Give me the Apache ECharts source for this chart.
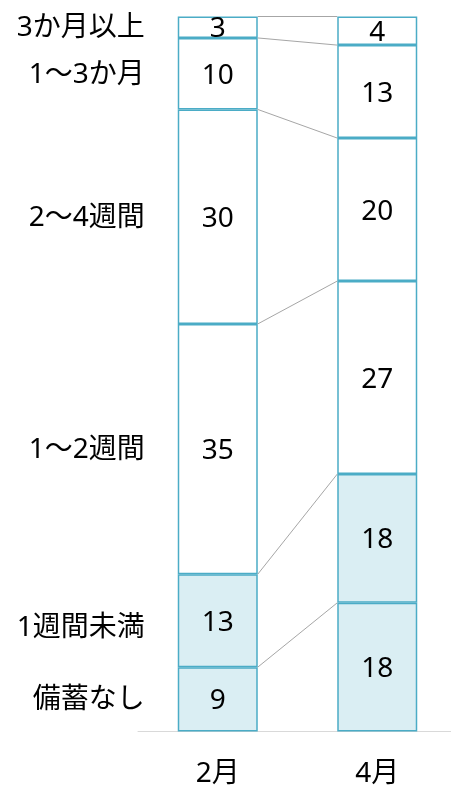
<!DOCTYPE html>
<html>
<head>
<meta charset="utf-8">
<script src="https://cdn.jsdelivr.net/npm/echarts@6/dist/echarts.min.js"></script>
<style>
  html, body { margin: 0; padding: 0; background: #fff; }
  #chart { width: 451px; height: 792px; }
</style>
</head>
<body>
<div id="chart"></div>
<script>
// 備蓄期間の内訳（%）
const months = ['2月', '4月'];
const periods = ['備蓄なし', '1週間未満', '1～2週間', '2～4週間', '1～3か月', '3か月以上'];
const febValues = [9, 13, 35, 30, 10, 3];
const aprValues = [18, 18, 27, 20, 13, 4];

const FONT = '"Noto Sans", "Noto Sans CJK JP", sans-serif';
const FONT_SIZE = 28;
const BORDER = '#4BACC6';
const SHORT_FILL = '#DAEEF3';
const BAR_W = 80;

// 区切り線の位置（累積値）
function cumulative(arr) {
  const out = [];
  let s = 0;
  arr.forEach(v => { s += v; out.push(s); });
  return out;
}
const febCum = cumulative(febValues);
const aprCum = cumulative(aprValues);
const boundaries = febCum.map((v, i) => [0, v, aprCum[i]]);

const valueSeries = periods.map((name, i) => ({
  name: name,
  type: 'bar',
  stack: 'share',
  barWidth: BAR_W,
  barGap: '-100%',
  data: [febValues[i], aprValues[i]],
  itemStyle: {
    color: i < 2 ? SHORT_FILL : '#ffffff',
    borderColor: BORDER,
    borderWidth: 1.5
  },
  label: {
    show: true,
    position: 'inside',
    offset: [0, 2],
    color: '#000',
    fontSize: FONT_SIZE,
    fontFamily: FONT
  },
  z: 2
}));

// 左側の区分名（2月の各区分の中央に置く）
const nameSeries = periods.map((name, i) => ({
  name: name,
  type: 'bar',
  stack: 'names',
  barWidth: BAR_W,
  barGap: '-100%',
  data: [febValues[i], '-'],
  itemStyle: { color: 'rgba(0,0,0,0)', borderWidth: 0 },
  label: {
    show: true,
    position: 'left',
    distance: 33,
    formatter: '{a}',
    color: '#000',
    fontSize: FONT_SIZE,
    fontFamily: FONT,
    offset: name === '1週間未満' ? [0, 7] : [0, 1]
  },
  silent: true,
  z: 1
}));

// 2月と4月の区切りを結ぶ線
const connectorSeries = {
  type: 'custom',
  data: boundaries,
  encode: { x: 0, y: 1 },
  silent: true,
  z: 3,
  renderItem: function (params, api) {
    const half = BAR_W / 2;
    const p1 = api.coord([0, api.value(1)]);
    const p2 = api.coord([1, api.value(2)]);
    return {
      type: 'line',
      shape: { x1: p1[0] + half, y1: p1[1], x2: p2[0] - half, y2: p2[1] },
      style: { stroke: '#A6A6A6', lineWidth: 1 }
    };
  }
};

const chart = echarts.init(document.getElementById('chart'), null, { renderer: 'canvas' });
chart.setOption({
  animation: false,
  backgroundColor: '#ffffff',
  grid: {
    left: 138, width: 319, top: 16.5, bottom: 60.5,
    containLabel: false,
    outerBoundsMode: 'none'
  },
  xAxis: {
    type: 'category',
    data: months,
    axisLine: { show: true, lineStyle: { color: '#D9D9D9', width: 1 } },
    axisTick: { show: false },
    axisLabel: { color: '#000', fontSize: FONT_SIZE, fontFamily: FONT, margin: 29 }
  },
  yAxis: {
    type: 'value',
    min: 0,
    max: 100,
    show: false,
    splitLine: { show: false }
  },
  series: [...valueSeries, ...nameSeries, connectorSeries]
});
</script>
</body>
</html>
